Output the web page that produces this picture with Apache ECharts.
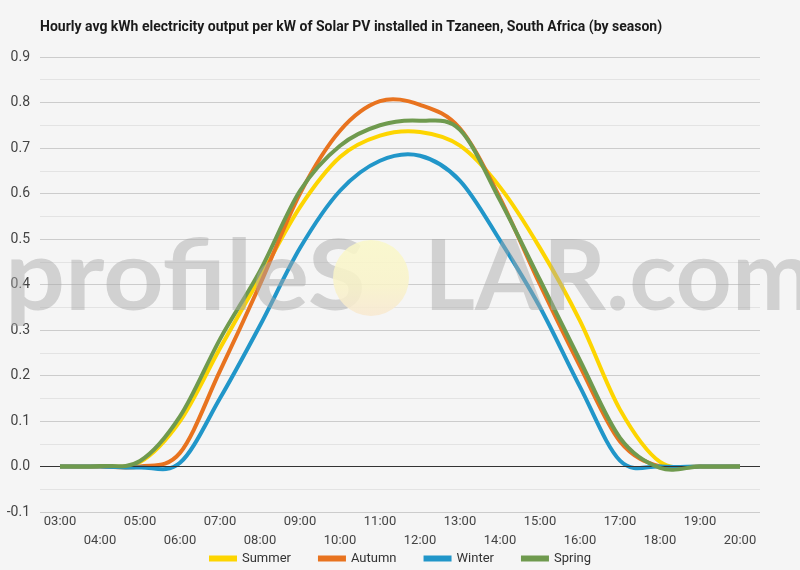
<!DOCTYPE html>
<html>
<head>
<meta charset="utf-8">
<script src="https://cdn.jsdelivr.net/npm/echarts@6/dist/echarts.min.js"></script>
<style>
  html, body { margin: 0; padding: 0; background: #f5f5f5; }
  #chart { width: 800px; height: 570px; }
</style>
</head>
<body>
<div id="chart"></div>
<script>
const hours = ["03:00", "04:00", "05:00", "06:00", "07:00", "08:00", "09:00", "10:00", "11:00",
  "12:00", "13:00", "14:00", "15:00", "16:00", "17:00", "18:00", "19:00", "20:00"];
const summer = [0, 0, 0.01, 0.10, 0.26, 0.415, 0.57, 0.68, 0.727, 0.735, 0.705, 0.614, 0.48, 0.32, 0.125, 0.01, 0, 0];
const autumn = [0, 0, 0, 0.03, 0.21, 0.40, 0.60, 0.738, 0.803, 0.795, 0.743, 0.59, 0.40, 0.22, 0.055, 0, 0, 0];
const winter = [0, 0, -0.002, 0.008, 0.15, 0.31, 0.48, 0.606, 0.672, 0.683, 0.628, 0.497, 0.35, 0.175, 0.013, 0, 0, 0];
const spring = [0, 0.001, 0.012, 0.11, 0.28, 0.43, 0.606, 0.705, 0.75, 0.76, 0.74, 0.585, 0.41, 0.233, 0.063, -0.003, 0, 0];

const seasons = [
  ["Summer", summer, "#fdd500"],
  ["Autumn", autumn, "#e8731f"],
  ["Winter", winter, "#2196c9"],
  ["Spring", spring, "#6f9a4e"]
];

const chart = echarts.init(document.getElementById("chart"));
const font = "Roboto, sans-serif";
const wmFill = "rgba(168,168,168,0.47)";

// smooth curve through the points (Catmull-Rom turned into bezier segments)
function splinePath(pts) {
  let d = `M${pts[0][0]},${pts[0][1]}`;
  for (let i = 0; i < pts.length - 1; i++) {
    const p0 = pts[Math.max(i - 1, 0)];
    const p1 = pts[i];
    const p2 = pts[i + 1];
    const p3 = pts[Math.min(i + 2, pts.length - 1)];
    const c1x = p1[0] + (p2[0] - p0[0]) / 6, c1y = p1[1] + (p2[1] - p0[1]) / 6;
    const c2x = p2[0] - (p3[0] - p1[0]) / 6, c2y = p2[1] - (p3[1] - p1[1]) / 6;
    d += ` C${c1x},${c1y} ${c2x},${c2y} ${p2[0]},${p2[1]}`;
  }
  return d;
}

function curveSeries(name, values, color, i) {
  return {
    name, type: "custom", data: values.map((v, k) => [k, v]),
    itemStyle: { color },
    z: 2 + i,
    renderItem: (params, api) => {
      if (params.dataIndex !== 0) return null;
      const pts = values.map((v, k) => api.coord([k, v]));
      return {
        type: "path",
        shape: { pathData: splinePath(pts) },
        style: { fill: "none", stroke: color, lineWidth: 4, lineJoin: "round" }
      };
    },
    markLine: i === 0 ? {
      silent: true, symbol: "none", label: { show: false },
      lineStyle: { color: "#333", width: 1, type: "solid" },
      data: [{ yAxis: 0 }]
    } : undefined
  };
}

chart.setOption({
  backgroundColor: "#f5f5f5",
  animation: false,
  title: {
    text: "Hourly avg kWh electricity output per kW of Solar PV installed in Tzaneen, South Africa (by season)",
    left: 40, top: 20, padding: 0,
    textStyle: { fontFamily: font, fontSize: 14, fontWeight: "bold", color: "#1a1a1a" }
  },
  legend: {
    bottom: 0, left: "center",
    icon: "rect", itemWidth: 28, itemHeight: 6, itemGap: 27,
    textStyle: { fontFamily: font, fontSize: 13, color: "#333" },
    data: seasons.map((s) => s[0])
  },
  grid: { left: 40, right: 40, top: 57, height: 455 },
  xAxis: {
    type: "category",
    data: hours,
    boundaryGap: true,
    axisLine: { show: false },
    axisTick: { show: false },
    axisLabel: {
      interval: 0, margin: 0,
      fontFamily: font, fontSize: 13, color: "#444", lineHeight: 19,
      formatter: (v, i) => (i % 2 ? "\n" + v : v)
    }
  },
  yAxis: {
    type: "value", min: -0.1, max: 0.9, interval: 0.1,
    axisLabel: { fontFamily: font, fontSize: 14, color: "#444", margin: 10,
      formatter: (v) => v.toFixed(1) },
    splitLine: { lineStyle: { color: "#cccccc", width: 1 } },
    minorTick: { show: false, splitNumber: 2 },
    minorSplitLine: { show: true, lineStyle: { color: "#e3e3e3", width: 1 } },
    axisLine: { show: false },
    axisTick: { show: false }
  },
  series: seasons.map(([name, data, color], i) => curveSeries(name, data, color, i)),
  graphic: [
    {
      type: "text", left: 5, top: 229, z: 100, silent: true, scaleX: 1.08, originX: 5,
      style: { text: "profileS", font: "bold 98px Lato, sans-serif", fill: wmFill }
    },
    {
      type: "circle", z: 100, silent: true,
      shape: { cx: 371, cy: 278, r: 38 },
      style: {
        fill: new echarts.graphic.LinearGradient(0, 0, 0, 1, [
          { offset: 0, color: "rgba(250,248,200,0.85)" },
          { offset: 0.6, color: "rgba(249,243,200,0.85)" },
          { offset: 1, color: "rgba(248,232,208,0.85)" }
        ])
      }
    },
    {
      type: "text", left: 424, top: 229, z: 100, silent: true,
      style: { text: "LAR.com", font: "bold 98px Lato, sans-serif", fill: wmFill }
    }
  ]
});
</script>
</body>
</html>
